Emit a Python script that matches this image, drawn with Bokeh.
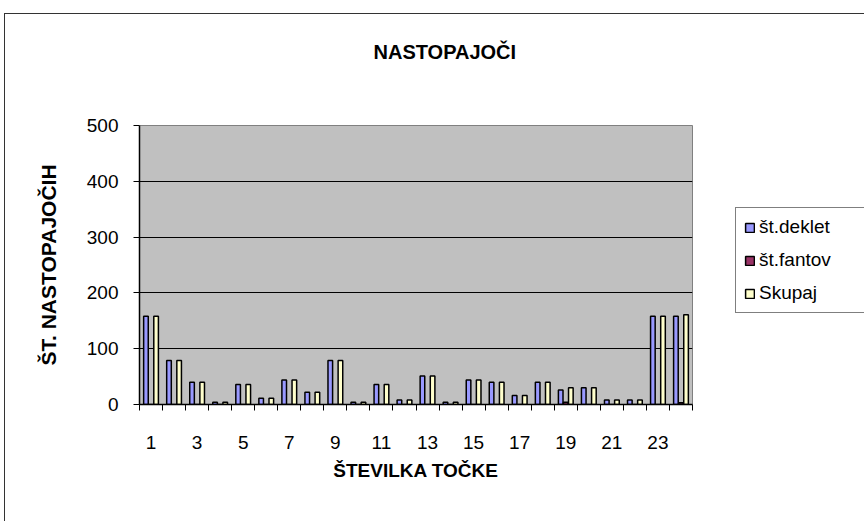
from bokeh.plotting import figure
from bokeh.layouts import row
from bokeh.models import FixedTicker, Legend, LegendItem, ColumnDataSource, LinearAxis
from bokeh.transform import dodge
from bokeh.embed import file_html
from bokeh.resources import INLINE

categories = list(range(1, 25))
deklet = [158, 79, 40, 4, 36, 11, 44, 22, 79, 4, 36, 8, 51, 4, 44, 40, 16, 40, 26, 30, 8, 8, 158, 158]
fantov = [0, 0, 0, 0, 0, 0, 0, 0, 0, 0, 0, 0, 0, 0, 0, 0, 0, 0, 4, 0, 0, 0, 0, 3]
skupaj = [158, 79, 40, 4, 36, 11, 44, 22, 79, 4, 36, 8, 51, 4, 44, 40, 16, 40, 30, 30, 8, 8, 158, 161]
series_names = ["št.deklet", "št.fantov", "Skupaj"]
series_colors = ["#9999FF", "#993366", "#FFFFCC"]
y_ticks = [0, 100, 200, 300, 400, 500]
x_label_ticks = [1, 3, 5, 7, 9, 11, 13, 15, 17, 19, 21, 23]

FONT = "Liberation Sans"
BORDER = "1px solid #333333"

src = ColumnDataSource(dict(cat=categories, deklet=deklet, fantov=fantov, skupaj=skupaj))

# ---------------- main chart ----------------
p = figure(frame_width=552, frame_height=278, x_range=(0.5, 24.5), y_range=(0, 500),
           output_backend="svg", toolbar_location=None,
           min_border_left=134, min_border_top=111, min_border_right=43, min_border_bottom=119)
p.margin = (13, 0, 0, 4)
p.styles = {"border-left": BORDER, "border-top": BORDER}

p.background_fill_color = "#C0C0C0"
p.border_fill_color = "white"
p.outline_line_color = "#808080"
p.outline_line_width = 1

# invisible spacer between the frame and the title (one white tick, empty label)
spacer = LinearAxis(ticker=FixedTicker(ticks=[0.5]), major_label_overrides={0.5: ""},
                    major_label_text_font_size="1px", major_label_standoff=0,
                    major_tick_out=63, major_tick_in=0, major_tick_line_color="white",
                    minor_tick_out=0, minor_tick_in=0, axis_label_standoff=0,
                    axis_line_color=None)
p.add_layout(spacer, "above")

p.title.text = "NASTOPAJOČI"
p.title.align = "left"
p.title.offset = 234
p.title.standoff = 0
p.title.text_font = FONT
p.title.text_font_size = "20px"
p.title.text_font_style = "bold"
p.title.text_color = "black"

offsets = [-0.22, 0.0, 0.22]
fields = ["deklet", "fantov", "skupaj"]
for f, off, col in zip(fields, offsets, series_colors):
    p.vbar(x=dodge("cat", off, range=p.x_range), top=f, width=0.2, source=src,
           fill_color=col, line_color="black", line_width=1.5)

# axes
yax = p.left[0]
yax.ticker = FixedTicker(ticks=y_ticks)
yax.axis_label = "ŠT. NASTOPAJOČIH"
yax.axis_label_text_font = FONT
yax.axis_label_text_font_size = "21px"
yax.axis_label_text_font_style = "bold"
yax.axis_label_text_color = "black"
yax.axis_label_standoff = 24
yax.major_label_text_font = FONT
yax.major_label_text_font_size = "19px"
yax.major_label_text_color = "black"
yax.major_label_standoff = 15
yax.major_tick_out = 6
yax.major_tick_in = 0
yax.major_tick_line_color = "black"
yax.minor_tick_out = 0
yax.minor_tick_in = 0
yax.axis_line_color = "black"
yax.axis_line_width = 1.5

xax = p.below[0]
xax.ticker = FixedTicker(ticks=x_label_ticks,
                         minor_ticks=[c - 0.5 for c in categories] + [24.5])
xax.axis_label = "ŠTEVILKA TOČKE"
xax.axis_label_text_font = FONT
xax.axis_label_text_font_size = "19px"
xax.axis_label_text_font_style = "bold"
xax.axis_label_text_color = "black"
xax.axis_label_standoff = 8
xax.major_label_text_font = FONT
xax.major_label_text_font_size = "19px"
xax.major_label_text_color = "black"
xax.major_label_standoff = 25
xax.major_tick_out = 0
xax.major_tick_in = 0
xax.minor_tick_out = 6
xax.minor_tick_in = 0
xax.minor_tick_line_color = "black"
xax.axis_line_color = "black"
xax.axis_line_width = 1.5

p.xgrid.visible = False
p.ygrid.grid_line_color = "black"
p.ygrid.grid_line_width = 1

# ---------------- legend panel ----------------
# ranges chosen so the (duplicate) bars of this panel sit hidden behind the opaque legend box
lg = figure(width=130, height=508, x_range=(-3.1, 28.1), y_range=(-234.6, 404.8),
            output_backend="svg", toolbar_location=None,
            x_axis_location=None, y_axis_location=None, min_border=0)
lg.margin = (13, 0, 0, 0)
lg.styles = {"border-top": BORDER}
lg.title.visible = False
lg.grid.visible = False
lg.outline_line_color = None
lg.background_fill_color = "white"
lg.border_fill_color = "white"

lg_renderers = []
for f, off, col in zip(fields, offsets, series_colors):
    r = lg.vbar(x=dodge("cat", off, range=lg.x_range), top=f, width=0.2, source=src,
                fill_color=col, line_color="black", line_width=1.5)
    lg_renderers.append(r)

legend = Legend(items=[LegendItem(label=n, renderers=[r]) for n, r in zip(series_names, lg_renderers)],
                location=(1, 90))
legend.label_text_font = FONT
legend.label_text_font_size = "19px"
legend.label_text_color = "black"
legend.glyph_width = 11
legend.glyph_height = 11
legend.label_height = 20
legend.label_width = 98
legend.label_standoff = 4
legend.spacing = 11
legend.padding = 8
legend.margin = 0
legend.border_line_color = "black"
legend.border_line_width = 1
legend.background_fill_color = "white"
legend.background_fill_alpha = 1
lg.add_layout(legend, "center")

layout = row(p, lg)
open("out.html", "w").write(file_html(layout, INLINE))
